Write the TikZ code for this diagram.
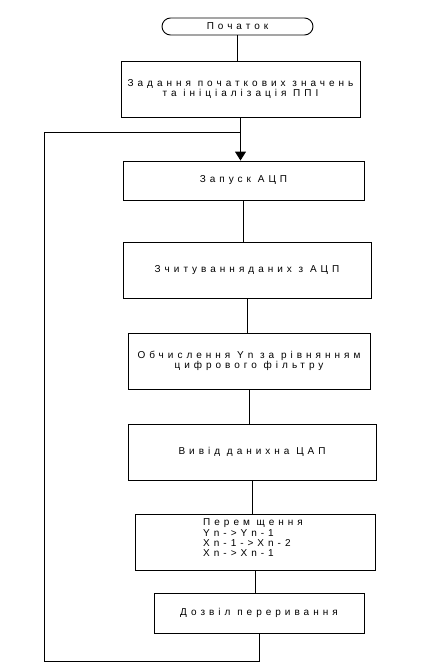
\documentclass[tikz,border=0pt]{standalone}
\usepackage{fontspec}
\setmainfont{Liberation Sans}
\newfontfamily\spaced[LetterSpace=40]{Liberation Sans}
\usetikzlibrary{arrows.meta}
\tikzset{
  blk/.style={draw, line width=0.9pt, inner sep=0pt, align=center, font=\spaced\fontsize{10}{10.5}\selectfont},
  conn/.style={line width=0.9pt},
}
\begin{document}
\begin{tikzpicture}[x=1pt,y=-1pt]
\useasboundingbox (0,0) rectangle (443,665);
\node[blk, rounded corners=8.5pt, minimum width=151pt, minimum height=17pt] (t) at (237.5,26.5) {Початок};
\node[blk, minimum width=239pt, minimum height=56pt] (b1) at (240.5,89) {Задання початкових значень\\та ініціалізація ППІ};
\node[blk, minimum width=241pt, minimum height=39pt] (b2) at (243.5,180.5) {Запуск АЦП};
\node[blk, minimum width=248pt, minimum height=56pt] (b3) at (247,270) {Зчитуванняданих з АЦП};
\node[blk, minimum width=242pt, minimum height=56pt] (b4) at (249,361) {Обчислення Yn за рівнянням\\цифрового фільтру};
\node[blk, minimum width=248pt, minimum height=56pt] (b5) at (252,452) {Вивід данихна ЦАП};
\node[blk, minimum width=240pt, minimum height=56pt] (b6) at (255,542) {};
\node[font=\spaced\fontsize{10}{10.3}\selectfont, align=left, anchor=west, inner sep=0pt] (b6t) at (203,538) {Перем щення\\Yn->Yn-1\\Xn-1->Xn-2\\Xn->Xn-1};
\node[blk, minimum width=210pt, minimum height=40pt] (b7) at (259,613) {Дозвіл переривання};
\coordinate (lbot) at (44,661);
\coordinate (ltop) at (44,132);
\draw[conn] (t.south) -- (t.south |- b1.north);
\draw[conn, -{Triangle[length=9pt,width=11pt]}] (b1.south) -- (b1.south |- b2.north);
\draw[conn] (b2.south) -- (b2.south |- b3.north);
\draw[conn] (b3.south) -- (b3.south |- b4.north);
\draw[conn] (b4.south) -- (b4.south |- b5.north);
\draw[conn] (b5.south) -- (b5.south |- b6.north);
\draw[conn] (b6.south) -- (b6.south |- b7.north);
\draw[conn] (b7.south) |- (lbot) -- (ltop) -- (ltop -| b1.south);
\end{tikzpicture}
\end{document}
